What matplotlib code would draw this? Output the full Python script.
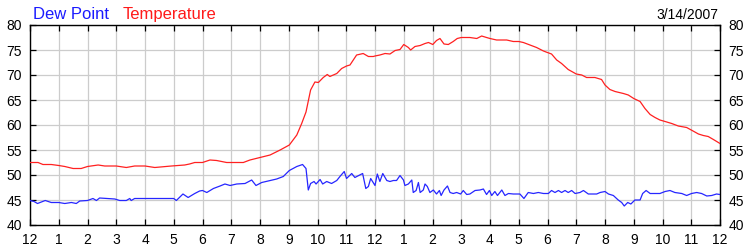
import matplotlib
matplotlib.use("Agg")
import matplotlib.pyplot as plt
from matplotlib.ticker import MultipleLocator, FixedLocator

plt.rcParams['font.family'] = ['Liberation Sans', 'DejaVu Sans']

# ---- data (hours after midnight, degrees F) ----
date_label = "3/14/2007"
series_names = ["Dew Point", "Temperature"]

temp_hours = [0.0, 0.28, 0.45, 0.74, 1.0, 1.21, 1.5, 1.78, 2.0, 2.37, 2.6, 3.0, 3.35, 3.64,
              4.0, 4.34, 4.92, 5.38, 5.55, 5.73, 6.0, 6.26, 6.49, 6.84, 7.42, 7.65, 8.0,
              8.35, 8.7, 9.02, 9.28, 9.45, 9.6, 9.76, 9.91, 10.03, 10.2, 10.34, 10.43,
              10.67, 10.84, 11.01, 11.13, 11.36, 11.59, 11.77, 11.94, 12.0, 12.17, 12.35,
              12.52, 12.7, 12.87, 13.0, 13.16, 13.24, 13.39, 13.57, 13.74, 13.86, 14.01,
              14.14, 14.26, 14.4, 14.55, 14.72, 14.86, 15.0, 15.3, 15.54, 15.71, 15.88,
              16.0, 16.23, 16.58, 16.81, 17.0, 17.16, 17.39, 17.62, 17.86, 17.95, 18.14,
              18.32, 18.49, 18.72, 19.0, 19.19, 19.36, 19.65, 19.88, 20.0, 20.17, 20.35,
              20.64, 20.81, 21.0, 21.22, 21.39, 21.57, 21.74, 21.91, 22.09, 22.32, 22.55,
              22.84, 23.0, 23.25, 23.42, 23.59, 23.77, 24.0]
temp_values = [52.5, 52.5, 52.1, 52.1, 51.9, 51.7, 51.3, 51.3, 51.7, 52.0, 51.8, 51.8, 51.5,
               51.8, 51.8, 51.5, 51.8, 52.0, 52.2, 52.5, 52.5, 53.0, 52.9, 52.5, 52.5, 53.0,
               53.5, 54.0, 55.0, 56.0, 58.0, 60.3, 62.6, 67.0, 68.6, 68.5, 69.5, 70.1, 69.7,
               70.3, 71.3, 71.8, 72.0, 74.0, 74.3, 73.7, 73.7, 73.8, 74.0, 74.3, 74.2, 74.9,
               75.1, 76.1, 75.5, 75.0, 75.7, 75.9, 76.3, 76.5, 76.1, 76.9, 77.3, 76.2, 76.1,
               76.7, 77.3, 77.5, 77.5, 77.3, 77.8, 77.5, 77.3, 77.0, 77.0, 76.7, 76.7, 76.5,
               76.0, 75.5, 74.8, 74.6, 74.2, 73.0, 72.3, 71.1, 70.2, 70.0, 69.5, 69.5, 69.1,
               68.0, 67.1, 66.7, 66.3, 66.0, 65.3, 64.7, 63.3, 62.1, 61.5, 61.0, 60.7, 60.3,
               59.8, 59.5, 59.0, 58.2, 57.9, 57.7, 57.1, 56.3]

dew_hours = [0.0, 0.14, 0.26, 0.39, 0.53, 0.74, 1.0, 1.21, 1.44, 1.61, 1.73, 2.0, 2.19, 2.31,
             2.42, 2.71, 2.95, 3.12, 3.35, 3.47, 3.52, 3.64, 4.0, 4.57, 5.0, 5.09, 5.32, 5.5,
             5.73, 5.9, 6.0, 6.15, 6.38, 6.61, 6.78, 6.96, 7.19, 7.48, 7.71, 7.86, 8.06,
             8.35, 8.58, 8.81, 9.02, 9.28, 9.48, 9.6, 9.68, 9.76, 9.88, 9.95, 10.09, 10.18,
             10.32, 10.49, 10.67, 10.78, 10.93, 11.01, 11.19, 11.3, 11.57, 11.68, 11.77,
             11.85, 12.0, 12.08, 12.17, 12.27, 12.41, 12.52, 12.64, 12.75, 12.87, 12.99,
             13.04, 13.16, 13.28, 13.33, 13.43, 13.51, 13.57, 13.68, 13.74, 13.82, 13.91,
             14.03, 14.14, 14.24, 14.3, 14.4, 14.52, 14.61, 14.72, 14.84, 14.98, 15.07,
             15.19, 15.3, 15.48, 15.65, 15.77, 15.88, 15.98, 16.06, 16.17, 16.26, 16.41,
             16.52, 16.64, 16.81, 17.04, 17.18, 17.33, 17.51, 17.68, 17.86, 18.03, 18.14,
             18.26, 18.38, 18.49, 18.61, 18.72, 18.84, 18.96, 19.13, 19.25, 19.42, 19.71,
             19.83, 20.0, 20.12, 20.29, 20.46, 20.58, 20.67, 20.79, 20.9, 21.04, 21.22,
             21.31, 21.43, 21.57, 21.74, 21.91, 22.09, 22.26, 22.43, 22.67, 22.84, 23.01,
             23.19, 23.36, 23.54, 23.71, 23.88, 24.0]
dew_values = [44.9, 44.7, 44.3, 44.6, 44.9, 44.5, 44.5, 44.3, 44.5, 44.3, 44.8, 44.9, 45.3,
              44.9, 45.4, 45.3, 45.2, 44.9, 44.9, 45.3, 44.9, 45.3, 45.3, 45.3, 45.3, 44.9,
              46.2, 45.5, 46.3, 46.8, 46.9, 46.5, 47.3, 47.8, 48.2, 47.9, 48.2, 48.3, 49.0,
              47.9, 48.5, 48.9, 49.2, 49.7, 50.9, 51.7, 52.1, 51.3, 47.0, 48.3, 48.7, 48.2,
              49.1, 48.2, 48.7, 48.3, 48.9, 49.7, 50.7, 49.3, 50.3, 49.5, 50.3, 47.3, 47.7,
              49.3, 47.9, 50.2, 48.7, 50.3, 48.9, 48.7, 48.9, 48.9, 49.9, 49.0, 47.9, 48.2,
              49.0, 46.5, 46.9, 48.5, 46.5, 47.0, 48.2, 47.7, 46.5, 47.0, 46.2, 46.9, 45.9,
              47.0, 47.8, 46.5, 46.3, 46.5, 46.2, 46.9, 46.1, 46.2, 46.9, 47.0, 47.2, 46.1,
              46.9, 45.9, 46.7, 45.9, 47.0, 45.9, 46.3, 46.2, 46.2, 45.3, 46.5, 46.3, 46.5,
              46.3, 46.3, 46.9, 46.5, 46.9, 46.5, 46.9, 46.5, 46.9, 46.3, 46.5, 46.9, 46.2,
              46.2, 46.5, 46.7, 46.2, 45.9, 45.0, 44.5, 43.8, 44.5, 44.2, 45.0, 45.0, 46.3,
              46.9, 46.3, 46.3, 46.3, 46.7, 46.9, 46.5, 46.3, 45.9, 46.3, 46.5, 46.3, 45.8,
              45.9, 46.2, 46.1]

hour_labels = ["12", "1", "2", "3", "4", "5", "6", "7", "8", "9", "10", "11",
               "12", "1", "2", "3", "4", "5", "6", "7", "8", "9", "10", "11", "12"]
y_ticks = [40, 45, 50, 55, 60, 65, 70, 75, 80]

dew_color = "#2626ff"
temp_color = "#ff2020"

fig = plt.figure(figsize=(7.5, 2.5), dpi=100)
ax = fig.add_axes([30 / 750, 25 / 250, 690 / 750, 200 / 250])

ax.plot(dew_hours, dew_values, color=dew_color, lw=0.9, zorder=3)
ax.plot(temp_hours, temp_values, color=temp_color, lw=0.9, zorder=3)

ax.set_xlim(0, 24)
ax.set_ylim(y_ticks[0], y_ticks[-1])
ax.xaxis.set_major_locator(FixedLocator(range(len(hour_labels))))
ax.set_xticklabels(hour_labels)
ax.set_yticks(y_ticks)
ax.grid(True, color="#cccccc", lw=0.9, zorder=0)
ax.set_axisbelow(True)

ax.tick_params(axis='both', direction='in', length=4, width=0.9, color='black',
               labelsize=10, pad=6, top=True, right=True, labelright=True)
for s in ax.spines.values():
    s.set_color('black')
    s.set_linewidth(1.0)

fig.text(33 / 750, 1 - 19 / 250, series_names[0], color="#1a1aff", fontsize=12,
         ha='left', va='baseline')
fig.text(123 / 750, 1 - 19 / 250, series_names[1], color="#ff1a1a", fontsize=12,
         ha='left', va='baseline')
fig.text(718 / 750, 1 - 19 / 250, date_label, color="black", fontsize=10,
         ha='right', va='baseline')

fig.savefig("out.png", dpi=100)
